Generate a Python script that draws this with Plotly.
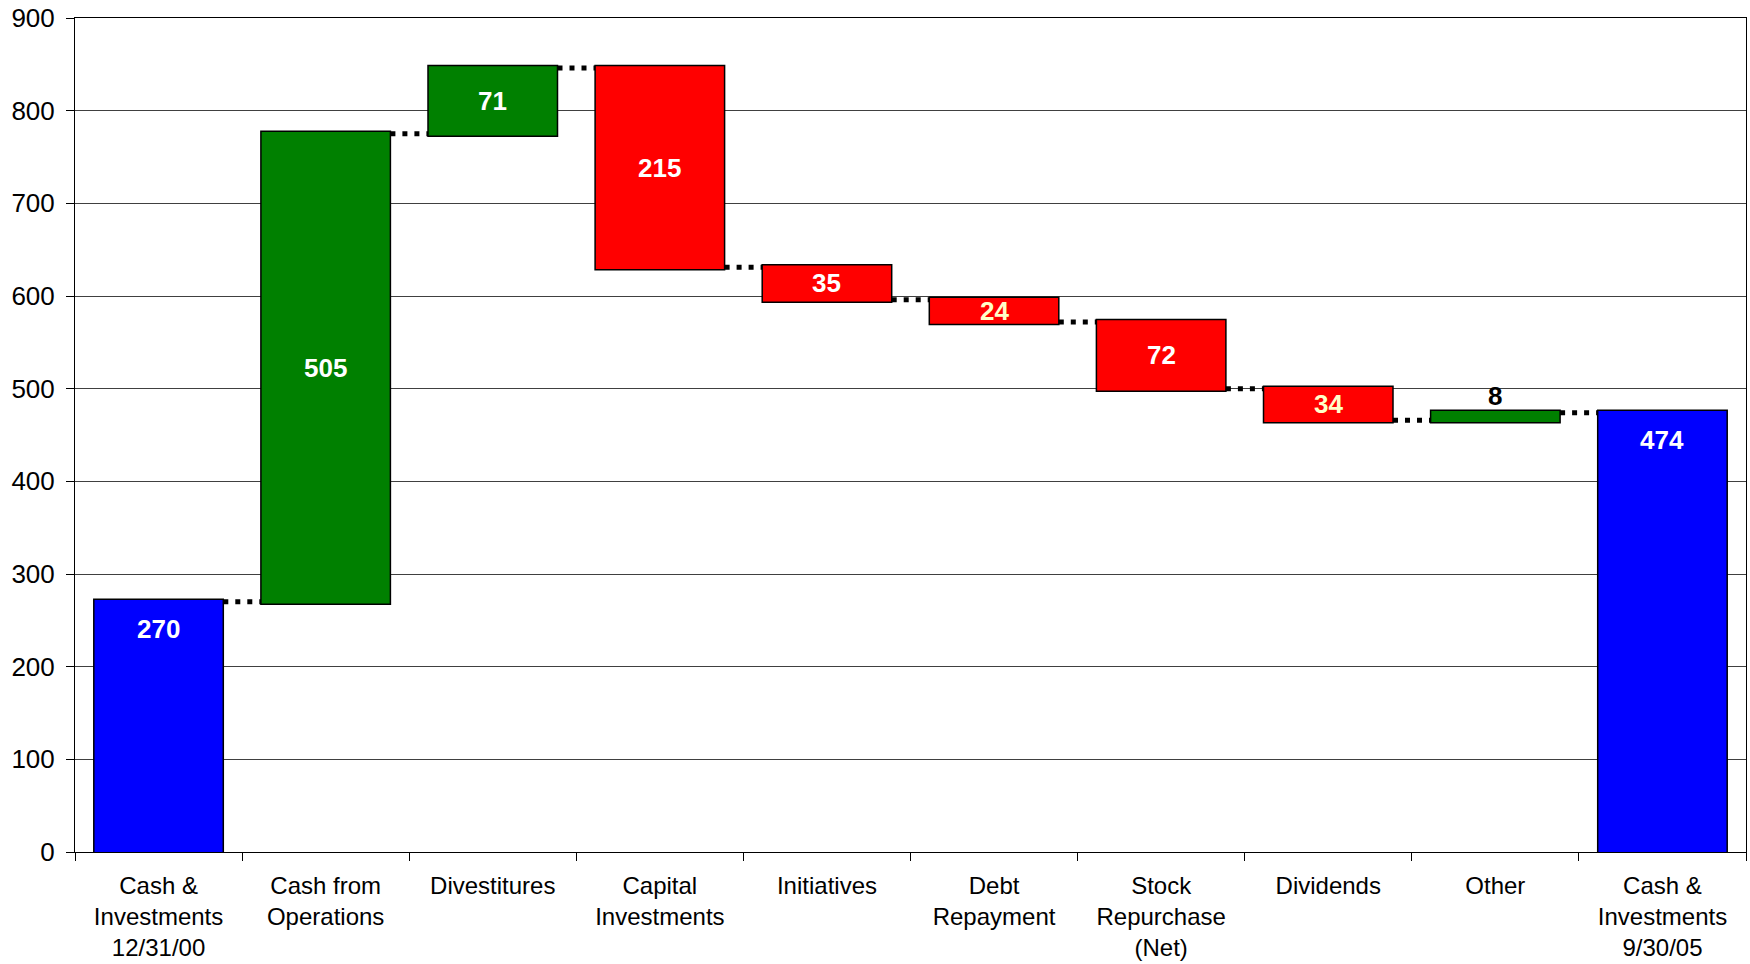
import plotly.graph_objects as go

# Cash flow bridge: opening balance, movements, closing balance
categories = [
    "Cash &<br>Investments<br>12/31/00",
    "Cash from<br>Operations",
    "Divestitures",
    "Capital<br>Investments",
    "Initiatives",
    "Debt<br>Repayment",
    "Stock<br>Repurchase<br>(Net)",
    "Dividends",
    "Other",
    "Cash &<br>Investments<br>9/30/05",
]
values = [270, 505, 71, -215, -35, -24, -72, -34, 8, 474]
measures = ["absolute", "relative", "relative", "relative", "relative",
            "relative", "relative", "relative", "relative", "absolute"]
label_colors = ["white", "white", "white", "white", "white",
                "#FFFFC8", "white", "#FFFFC8", "black", "white"]

FONT = "Liberation Sans, Arial, sans-serif"

fig = go.Figure()
fig.add_trace(go.Waterfall(
    x=categories,
    y=values,
    measure=measures,
    increasing=dict(marker=dict(color="#008000", line=dict(color="black", width=1.5))),
    decreasing=dict(marker=dict(color="#FF0000", line=dict(color="black", width=1.5))),
    totals=dict(marker=dict(color="#0000FF", line=dict(color="black", width=1.5))),
    connector=dict(line=dict(color="black", width=5, dash="5px,7px")),
    hoverinfo="skip",
    showlegend=False,
))

# value labels placed from the running totals
annotations = []
running = 0
for cat, v, m, col in zip(categories, values, measures, label_colors):
    if m == "absolute":
        running = v
        annotations.append(dict(x=cat, y=v, text=f"<b>{abs(v)}</b>", showarrow=False,
                                yanchor="middle", yshift=-27,
                                font=dict(color=col, size=26, family=FONT)))
    else:
        start = running
        running += v
        if abs(v) < 15:
            annotations.append(dict(x=cat, y=max(start, running), text=f"<b>{abs(v)}</b>",
                                    showarrow=False, yanchor="middle", yshift=17,
                                    font=dict(color=col, size=26, family=FONT)))
        else:
            annotations.append(dict(x=cat, y=(start + running) / 2, text=f"<b>{abs(v)}</b>",
                                    showarrow=False, yanchor="middle",
                                    font=dict(color=col, size=26, family=FONT)))

fig.update_layout(
    width=1750, height=964,
    margin=dict(l=75, r=3, t=18, b=108),
    paper_bgcolor="white",
    plot_bgcolor="white",
    waterfallgap=0.225,
    font=dict(family=FONT, color="black"),
    annotations=annotations,
)
fig.update_xaxes(
    type="category",
    tickson="boundaries",
    ticks="outside", ticklen=8, tickcolor="black", tickwidth=1,
    showline=True, linecolor="black", linewidth=1, mirror=True,
    showgrid=False,
    tickfont=dict(size=24, family=FONT, color="black"),
    tickangle=0,
    ticklabelstandoff=12,
)
fig.update_yaxes(
    range=[0, 900], dtick=100,
    ticks="outside", ticklen=8, tickcolor="black", tickwidth=1,
    showline=True, linecolor="black", linewidth=1, mirror=True,
    showgrid=True, gridcolor="#404040", gridwidth=1,
    zeroline=False,
    tickfont=dict(size=26, family=FONT, color="black"),
    ticklabelstandoff=6,
)

fig.write_html("out.html")
